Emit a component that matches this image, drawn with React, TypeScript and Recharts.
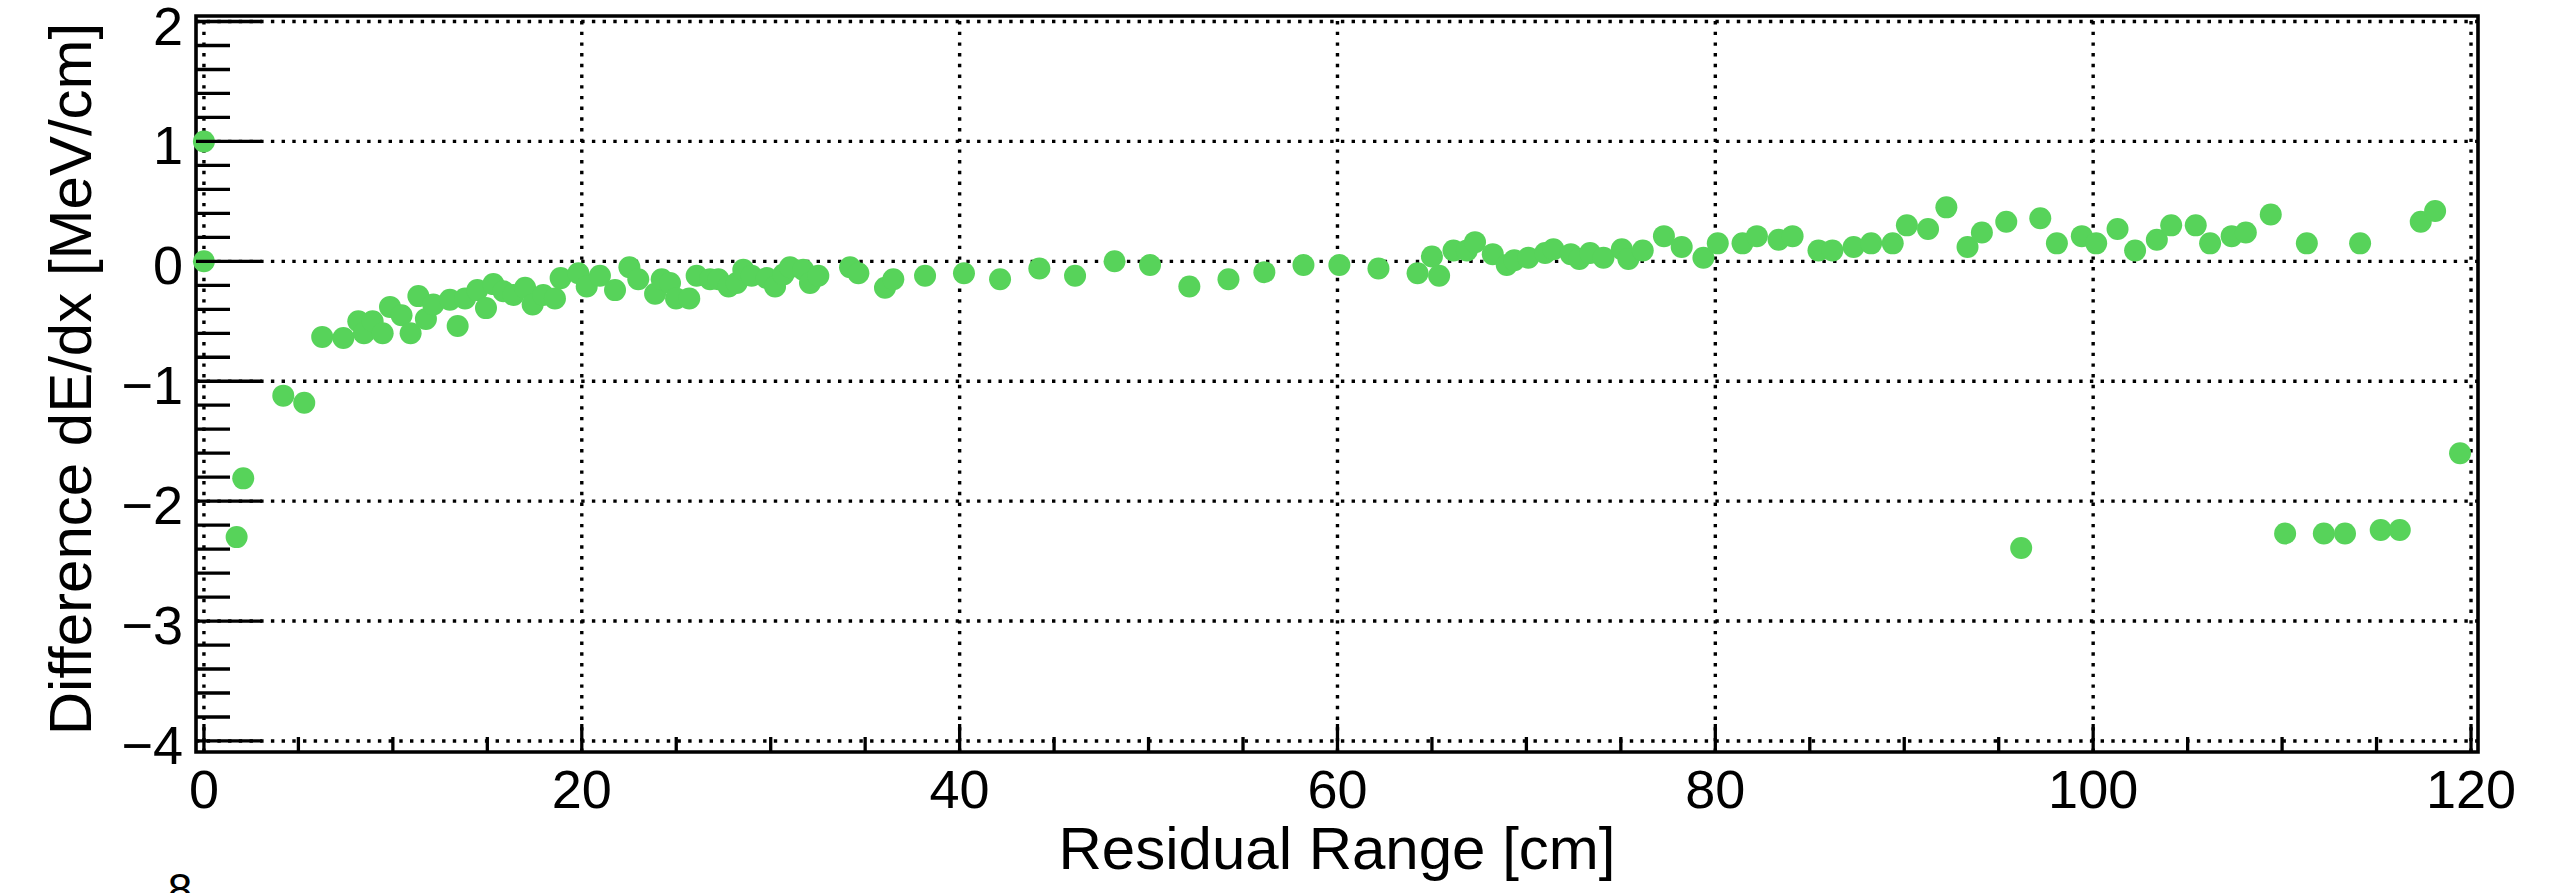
import {
  ScatterChart,
  Scatter,
  XAxis,
  YAxis,
  ReferenceLine,
  ReferenceArea,
  Label,
} from "recharts";

// Residual range [cm] of each hit
const RESIDUAL_RANGE = [
  0, 0, 1.73, 2.08, 4.2, 5.31, 6.26, 7.38, 8.17, 8.47, 8.93, 9.46, 9.85, 10.46,
  10.94, 11.35, 11.75, 12.14, 13.02, 13.43, 13.82, 14.47, 14.93, 15.32, 15.85,
  16.38, 17.0, 17.4, 17.96, 18.58, 18.88, 19.82, 20.26, 20.96, 21.76, 22.52,
  22.99, 23.88, 24.23, 24.67, 24.99, 25.69, 26.08, 26.79, 27.23, 27.77, 28.2,
  28.55, 28.99, 29.79, 30.23, 30.67, 31.02, 31.72, 32.08, 32.52, 34.2, 34.64,
  36.05, 36.49, 38.17, 40.23, 42.14, 44.22, 46.11, 48.2, 50.08, 52.16, 54.23,
  56.13, 58.2, 60.1, 62.17, 64.24, 65.0, 65.38, 66.14, 66.85, 67.28, 68.22,
  68.96, 69.36, 70.1, 70.99, 71.43, 72.35, 72.8, 73.37, 74.08, 75.05, 75.4,
  76.16, 77.28, 78.22, 79.37, 80.13, 81.44, 82.2, 83.35, 84.09, 85.46, 86.2,
  87.32, 88.25, 89.39, 90.14, 91.26, 92.23, 93.35, 94.11, 95.4, 96.19, 97.2,
  98.08, 99.4, 100.16, 101.29, 102.22, 103.37, 104.13, 105.43, 106.19, 107.33,
  108.08, 109.4, 110.16, 111.31, 112.21, 113.33, 114.13, 115.22, 116.23,
  117.34, 118.1, 119.42,
];

// dE/dx difference [MeV/cm] for the same hits
const DEDX_DIFFERENCE = [
  1.0, 0.0, -2.3, -1.81, -1.12, -1.18, -0.63, -0.64, -0.5, -0.6, -0.5, -0.6,
  -0.38, -0.45, -0.6, -0.29, -0.48, -0.36, -0.32, -0.54, -0.31, -0.24, -0.39,
  -0.19, -0.25, -0.28, -0.22, -0.36, -0.28, -0.31, -0.14, -0.1, -0.21, -0.12,
  -0.24, -0.05, -0.15, -0.27, -0.15, -0.18, -0.31, -0.31, -0.12, -0.15, -0.15,
  -0.21, -0.18, -0.07, -0.12, -0.14, -0.21, -0.11, -0.05, -0.07, -0.18, -0.12,
  -0.05, -0.1, -0.22, -0.15, -0.12, -0.1, -0.15, -0.06, -0.12, 0.0, -0.03,
  -0.21, -0.15, -0.09, -0.03, -0.03, -0.06, -0.1, 0.04, -0.12, 0.09, 0.09,
  0.16, 0.06, -0.03, 0.01, 0.03, 0.07, 0.1, 0.06, 0.02, 0.07, 0.03, 0.1, 0.02,
  0.09, 0.21, 0.12, 0.03, 0.15, 0.15, 0.21, 0.18, 0.21, 0.09, 0.09, 0.12, 0.15,
  0.15, 0.3, 0.27, 0.45, 0.12, 0.24, 0.33, -2.39, 0.36, 0.15, 0.21, 0.15, 0.27,
  0.09, 0.18, 0.3, 0.3, 0.15, 0.21, 0.24, 0.39, -2.27, 0.15, -2.27, -2.27,
  0.15, -2.24, -2.24, 0.33, 0.42, -1.6,
];

const X_MAJOR_TICKS = [0, 20, 40, 60, 80, 100, 120];
const Y_MAJOR_TICKS = [-4, -3, -2, -1, 0, 1, 2];
const X_MINOR_STEP = 5;
const Y_MINOR_STEP = 0.2;

const X_DOMAIN: [number, number] = [-0.42, 120.37];
const Y_DOMAIN: [number, number] = [-4.092, 2.046];

const points = RESIDUAL_RANGE.map((x, i) => ({ x, y: DEDX_DIFFERENCE[i] }));

const xTicks: number[] = [];
for (let v = 0; v <= 120; v += X_MINOR_STEP) xTicks.push(v);
const yTicks: number[] = [];
for (let i = 0; i <= 30; i++) yTicks.push(Math.round((-4 + i * Y_MINOR_STEP) * 10) / 10);

const FONT = '"Liberation Sans", Arial, Helvetica, sans-serif';
const GREEN = "#57d35a";
const DOTS = "3.4 7.3";

const isMajor = (v: number, majors: number[]) =>
  majors.some((m) => Math.abs(m - v) < 1e-6);

const fmt = (v: number) => (v < 0 ? `\u2212${Math.abs(v)}` : `${v}`);

// ticks point into the frame, like a ROOT canvas
function YTick({ x, y, payload }: any) {
  const major = isMajor(payload.value, Y_MAJOR_TICKS);
  return (
    <g>
      <line x1={x} x2={x + (major ? 66 : 34)} y1={y} y2={y} stroke="#000" strokeWidth={3.3} />
      {major && (
        <text x={x - 13} y={y + 23} textAnchor="end" fontSize={54} fontFamily={FONT} fill="#000">
          {fmt(payload.value)}
        </text>
      )}
    </g>
  );
}

function XTick({ x, y, payload }: any) {
  const major = isMajor(payload.value, X_MAJOR_TICKS);
  return (
    <g>
      <line x1={x} x2={x} y1={y} y2={y - (major ? 28 : 15)} stroke="#000" strokeWidth={3.3} />
      {major && (
        <text x={x} y={y + 56} textAnchor="middle" fontSize={54} fontFamily={FONT} fill="#000">
          {payload.value}
        </text>
      )}
    </g>
  );
}

export default function App() {
  return (
    <div style={{ position: "relative", width: 2561, height: 893, background: "#fff" }}>
      <style>{"body{margin:0;overflow:hidden;background:#fff}"}</style>
      <ScatterChart width={2561} height={893} margin={{ top: 16, right: 83, bottom: 0, left: 0 }}>
        <XAxis
          type="number"
          dataKey="x"
          domain={X_DOMAIN}
          ticks={xTicks}
          interval={0}
          tick={<XTick />}
          tickSize={0}
          tickMargin={0}
          tickLine={false}
          axisLine={false}
          height={141}
        >
          <Label
            content={({ viewBox }: any) => (
              <text
                x={viewBox.x + viewBox.width / 2}
                y={viewBox.y + 117}
                textAnchor="middle"
                fontSize={60}
                fontFamily={FONT}
                fill="#000"
              >
                Residual Range [cm]
              </text>
            )}
          />
        </XAxis>
        <YAxis
          type="number"
          dataKey="y"
          domain={Y_DOMAIN}
          ticks={yTicks}
          interval={0}
          tick={<YTick />}
          tickSize={0}
          tickMargin={0}
          tickLine={false}
          axisLine={false}
          width={196}
        >
          <Label
            content={({ viewBox }: any) => {
              const cx = viewBox.x + 91;
              const cy = viewBox.y + viewBox.height / 2 - 5;
              return (
                <text
                  x={cx}
                  y={cy}
                  transform={`rotate(-90 ${cx} ${cy})`}
                  textAnchor="middle"
                  fontSize={60}
                  fontFamily={FONT}
                  fill="#000"
                >
                  Difference dE/dx [MeV/cm]
                </text>
              );
            }}
          />
        </YAxis>
        {Y_MAJOR_TICKS.map((v) => (
          <ReferenceLine key={`gy${v}`} y={v} stroke="#000" strokeWidth={3.4} strokeDasharray={DOTS} />
        ))}
        {X_MAJOR_TICKS.map((v) => (
          <ReferenceLine key={`gx${v}`} x={v} stroke="#000" strokeWidth={3.4} strokeDasharray={DOTS} />
        ))}
        <ReferenceArea
          x1={X_DOMAIN[0]}
          x2={X_DOMAIN[1]}
          y1={Y_DOMAIN[0]}
          y2={Y_DOMAIN[1]}
          fill="none"
          fillOpacity={0}
          stroke="#000"
          strokeWidth={3.6}
        />
        <Scatter
          data={points}
          isAnimationActive={false}
          shape={(p: any) => <circle cx={p.cx} cy={p.cy} r={11} fill={GREEN} />}
        />
      </ScatterChart>
      <svg
        width={2561}
        height={893}
        style={{ position: "absolute", left: 0, top: 0, pointerEvents: "none" }}
      >
        <text x={180} y={905} textAnchor="middle" fontSize={44} fontFamily={FONT} fill="#000">
          8
        </text>
      </svg>
    </div>
  );
}
